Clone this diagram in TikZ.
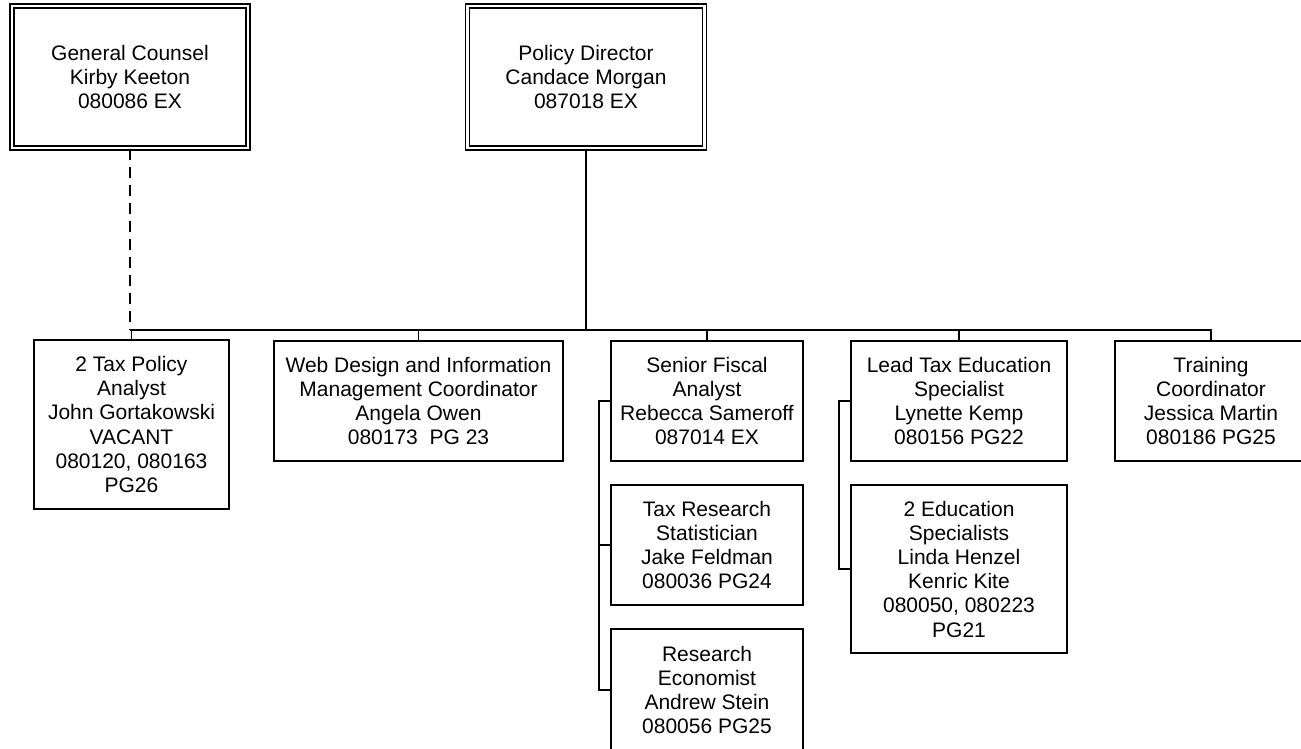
\documentclass[tikz,border=0pt]{standalone}
\usepackage{fontspec}
\setmainfont{Liberation Sans}
\begin{document}
\begin{tikzpicture}[x=1pt,y=-1pt,
  box/.style={draw, line width=1.9pt, rectangle, align=center, inner sep=0pt,
    font=\fontsize{21}{24.2}\selectfont},
  topbox/.style={box, double, double distance=2.6pt, line width=1.6pt},
  link/.style={line width=1.9pt},
  dlink/.style={line width=1.9pt, dash pattern=on 11pt off 7pt}]
\useasboundingbox (0,0) rectangle (1301,748);
\fill[white] (0,0) rectangle (1301,748);
\clip (0,0) rectangle (1301,748);

\node[topbox, minimum width=236, minimum height=142] (gc) at (130,77)
  {General Counsel\\Kirby Keeton\\080086 EX};
\node[topbox, minimum width=237, minimum height=142] (pd) at (586,77)
  {Policy Director\\Candace Morgan\\087018 EX};

\node[box, minimum width=195, minimum height=169] (b1) at (131.5,424.5)
  {2 Tax Policy\\Analyst\\John Gortakowski\\VACANT\\080120, 080163\\PG26};
\node[box, minimum width=289, minimum height=120] (b2) at (418.5,401)
  {Web Design and Information\\Management Coordinator\\Angela Owen\\080173\ \ PG 23};
\node[box, minimum width=192, minimum height=120] (b3) at (707,401)
  {Senior Fiscal\\Analyst\\Rebecca Sameroff\\087014 EX};
\node[box, minimum width=192, minimum height=120] (b3b) at (707,545)
  {Tax Research\\Statistician\\Jake Feldman\\080036 PG24};
\node[box, minimum width=192, minimum height=122] (b3c) at (707,690)
  {Research\\Economist\\Andrew Stein\\080056 PG25};
\node[box, minimum width=216, minimum height=120] (b4) at (959,401)
  {Lead Tax Education\\Specialist\\Lynette Kemp\\080156 PG22};
\node[box, minimum width=216, minimum height=168] (b4b) at (959,569)
  {2 Education\\Specialists\\Linda Henzel\\Kenric Kite\\080050, 080223\\PG21};
\node[box, minimum width=192, minimum height=120] (b5) at (1211,401)
  {Training\\Coordinator\\Jessica Martin\\080186 PG25};

\coordinate (busL) at (131,330);
\coordinate (busR) at (1211,330);
\coordinate (sideA) at (599,401);
\coordinate (sideB) at (839,401);

\draw[dlink] (gc.south) -- (gc.south |- busL);
\draw[link] (pd.south) -- (pd.south |- busL);
\draw[link, line cap=rect] (busL) -- (busR);
\foreach \n in {b1,b2,b3,b4,b5}
  \draw[link] (\n.north |- busL) -- (\n.north);

\draw[link] (b3.west) -- (sideA) |- (b3c.west);
\draw[link] (sideA |- b3b.west) -- (b3b.west);
\draw[link] (b4.west) -- (sideB) |- (b4b.west);
\end{tikzpicture}
\end{document}
